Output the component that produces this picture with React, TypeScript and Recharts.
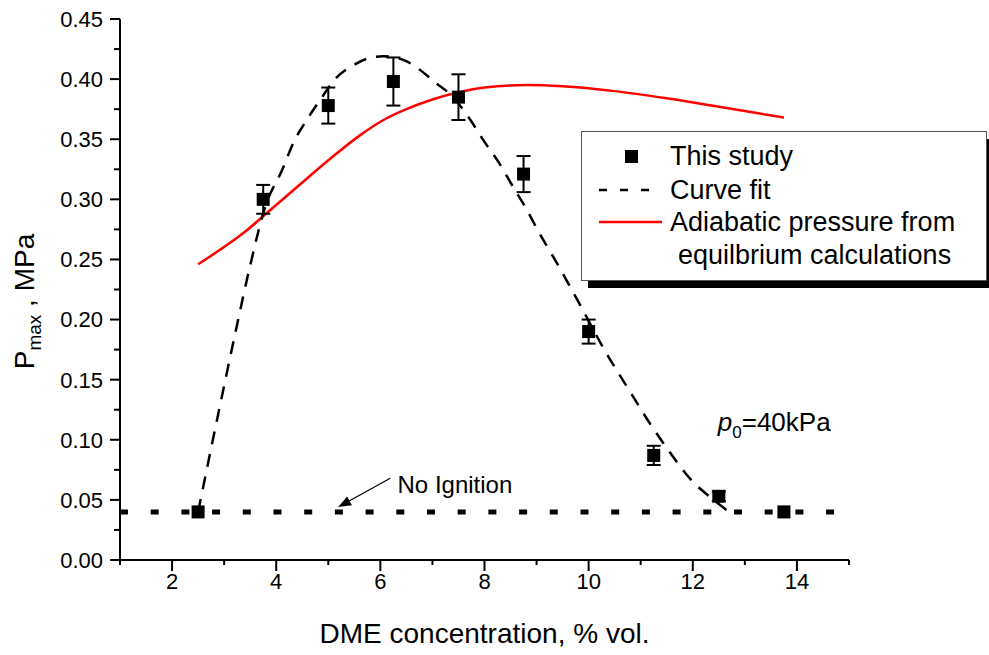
import React from 'react';
import {
  ComposedChart,
  Line,
  Scatter,
  XAxis,
  YAxis,
  ErrorBar,
  ReferenceLine,
  ReferenceDot,
  Legend
} from 'recharts';

// measured peak pressure (this study)
const STUDY_X = [2.5, 3.75, 5, 6.25, 7.5, 8.75, 10, 11.25, 12.5, 13.75];
const STUDY_P = [0.04, 0.3, 0.378, 0.398, 0.385, 0.321, 0.19, 0.087, 0.053, 0.04];
const STUDY_ERR = [null, 0.012, 0.015, 0.02, 0.019, 0.015, 0.01, 0.008, 0.004, null];

// curve fit (dashed)
const FIT_X = [2.5, 2.75, 3.0, 3.25, 3.5, 3.79, 4.12, 4.33, 4.6, 4.85, 5.13, 5.5, 5.75, 6.06, 6.44, 6.75, 7.06, 7.35, 7.73, 7.98, 8.27, 8.54, 8.79, 9.04, 9.31, 9.85, 10.3, 10.81, 11.2, 11.52, 11.96, 12.4, 12.7];
const FIT_P = [0.04, 0.093, 0.145, 0.196, 0.245, 0.294, 0.325, 0.347, 0.367, 0.383, 0.4, 0.412, 0.417, 0.419, 0.416, 0.408, 0.397, 0.387, 0.366, 0.349, 0.331, 0.311, 0.293, 0.273, 0.253, 0.211, 0.175, 0.139, 0.112, 0.092, 0.067, 0.05, 0.04];

// adiabatic pressure from equilibrium calculations (red)
const ADIA_X = [2.5, 2.92, 3.4, 3.83, 4.5, 5.1, 5.6, 6.06, 6.5, 7.0, 7.5, 8.0, 8.8, 9.5, 10.5, 11.5, 12.5, 13.2, 13.75];
const ADIA_P = [0.246, 0.258, 0.273, 0.289, 0.314, 0.336, 0.353, 0.366, 0.375, 0.383, 0.389, 0.393, 0.395, 0.394, 0.39, 0.384, 0.377, 0.372, 0.368];

const X_TICKS = [1, 2, 3, 4, 5, 6, 7, 8, 9, 10, 11, 12, 13, 14, 15];
const Y_TICKS = [0, 0.025, 0.05, 0.075, 0.1, 0.125, 0.15, 0.175, 0.2, 0.225, 0.25, 0.275, 0.3, 0.325, 0.35, 0.375, 0.4, 0.425, 0.45];

// no-ignition threshold and annotations
const NO_IGNITION_P = 0.04;
const NO_IGNITION_END = 14.75;
const ARROW_FROM = { x: 6.19, y: 0.068 };
const ARROW_TO = { x: 5.19, y: 0.044 };
const NO_IGN_LABEL = { x: 6.33, y: 0.0558 };
const P0_LABEL = { x: 12.48, y: 0.1075 };

const FONT = '"Liberation Sans", Arial, sans-serif';

const studyData = STUDY_X.map((x, i) => ({ x, y: STUDY_P[i], err: STUDY_ERR[i] }));
const fitData = FIT_X.map((x, i) => ({ x, y: FIT_P[i] }));
const adiaData = ADIA_X.map((x, i) => ({ x, y: ADIA_P[i] }));

const isMajorY = (v: number) => Math.round(v * 1000) % 50 === 0;

const BottomTick = (props: any) => {
  const { x, y, payload } = props;
  const v = payload.value;
  const major = v % 2 === 0;
  return (
    <g>
      <line x1={x} x2={x} y1={y} y2={y + (major ? 11 : 5)} stroke="#000" strokeWidth={2} />
      {major && (
        <text x={x} y={y + 29} textAnchor="middle" fontSize={22} fill="#000">
          {v}
        </text>
      )}
    </g>
  );
};

const LeftTick = (props: any) => {
  const { x, y, payload } = props;
  const v = payload.value;
  const major = isMajorY(v);
  return (
    <g>
      <line x1={x} x2={x - (major ? 10 : 6)} y1={y} y2={y} stroke="#000" strokeWidth={2} />
      {major && (
        <text x={x - 17} y={y} dy="0.36em" textAnchor="end" fontSize={22} fill="#000">
          {v.toFixed(2)}
        </text>
      )}
    </g>
  );
};

const TopTick = (props: any) => {
  const { x, y } = props;
  return <line x1={x} x2={x} y1={y} y2={y + 3} stroke="#000" strokeWidth={1.5} />;
};

const RightTick = (props: any) => {
  const { x, y } = props;
  return <line x1={x} x2={x - 3} y1={y} y2={y} stroke="#000" strokeWidth={1.5} />;
};

const Square = (props: any) => {
  const { cx, cy } = props;
  if (cx == null || cy == null) return null;
  return <rect x={cx - 6.5} y={cy - 6.5} width={13} height={13} fill="#000" />;
};

const ArrowShape = (props: any) => {
  const { x1, y1, x2, y2 } = props;
  const a = Math.atan2(y2 - y1, x2 - x1);
  const len = 13;
  const hw = 5;
  const bx = x2 - len * Math.cos(a);
  const by = y2 - len * Math.sin(a);
  const px = -Math.sin(a) * hw;
  const py = Math.cos(a) * hw;
  return (
    <g>
      <line x1={x1} y1={y1} x2={bx} y2={by} stroke="#000" strokeWidth={1.2} />
      <polygon points={`${x2},${y2} ${bx + px},${by + py} ${bx - px},${by - py}`} fill="#000" />
    </g>
  );
};

const NoIgnitionText = (props: any) => (
  <text x={props.cx} y={props.cy} fontSize={24} fill="#000">
    No Ignition
  </text>
);

const P0Text = (props: any) => (
  <text x={props.cx} y={props.cy} fontSize={26} fill="#000">
    <tspan fontStyle="italic">p</tspan>
    <tspan fontSize={17} dy={7}>0</tspan>
    <tspan dy={-7}>=40kPa</tspan>
  </text>
);

const YTitle = (props: any) => {
  const { viewBox } = props;
  const cx = viewBox.x - 26;
  const cy = viewBox.y + viewBox.height / 2 + 12;
  return (
    <text x={cx} y={cy} transform={`rotate(-90 ${cx} ${cy})`} textAnchor="middle" fontSize={28} fill="#000">
      <tspan>P</tspan>
      <tspan fontSize={19} dy={7}>max</tspan>
      <tspan dy={-7}> , MPa</tspan>
    </text>
  );
};

const XTitle = (props: any) => {
  const { viewBox } = props;
  return (
    <text x={viewBox.x + viewBox.width / 2} y={viewBox.y + 83} textAnchor="middle" fontSize={28} fill="#000">
      DME concentration, % vol.
    </text>
  );
};

const LegendBox = () => (
  <svg width={420} height={160} style={{ fontFamily: FONT, display: 'block' }}>
    <rect x={7} y={8} width={405} height={149} fill="#000" />
    <rect x={0.5} y={0.5} width={405} height={149} fill="#fff" stroke="#555" strokeWidth={1} />
    <rect x={44} y={19} width={13} height={13} fill="#000" />
    <text x={89} y={34} fontSize={27} fill="#000">This study</text>
    <line x1={18} x2={76} y1={59} y2={59} stroke="#000" strokeWidth={2.5} strokeDasharray="8 13" />
    <text x={89} y={68} fontSize={27} fill="#000">Curve fit</text>
    <line x1={18} x2={81} y1={91} y2={91} stroke="#ff0000" strokeWidth={2.5} />
    <text x={89} y={100} fontSize={27} fill="#000">Adiabatic pressure from</text>
    <text x={97} y={133} fontSize={27} fill="#000">equilbrium calculations</text>
  </svg>
);

const App: React.FC = () => {
  return (
    <div style={{ position: 'absolute', left: 0, top: 0, width: 989, height: 655, background: '#fff', fontFamily: FONT }}>
      <ComposedChart
        width={989}
        height={655}
        margin={{ top: 19, right: 140, bottom: 55, left: 60 }}
        style={{ fontFamily: FONT }}
      >
        <XAxis
          xAxisId={0}
          type="number"
          dataKey="x"
          domain={[1, 15]}
          ticks={X_TICKS}
          interval={0}
          height={40}
          tickSize={0}
          tickMargin={0}
          tickLine={false}
          axisLine={{ stroke: '#000', strokeWidth: 2 }}
          tick={BottomTick}
          label={{ content: XTitle }}
          allowDataOverflow
        />
        <XAxis
          xAxisId="top"
          orientation="top"
          type="number"
          dataKey="x"
          domain={[1, 15]}
          ticks={X_TICKS}
          interval={0}
          height={0}
          tickSize={0}
          tickMargin={0}
          tickLine={false}
          axisLine={{ stroke: '#000', strokeWidth: 2 }}
          tick={TopTick}
          allowDataOverflow
        />
        <YAxis
          yAxisId={0}
          type="number"
          dataKey="y"
          domain={[0, 0.45]}
          ticks={Y_TICKS}
          interval={0}
          width={60}
          tickSize={0}
          tickMargin={0}
          tickLine={false}
          axisLine={{ stroke: '#000', strokeWidth: 2 }}
          tick={LeftTick}
          label={{ content: YTitle }}
          allowDataOverflow
        />
        <YAxis
          yAxisId="right"
          orientation="right"
          type="number"
          dataKey="y"
          domain={[0, 0.45]}
          ticks={Y_TICKS}
          interval={0}
          width={0}
          tickSize={0}
          tickMargin={0}
          tickLine={false}
          axisLine={{ stroke: '#000', strokeWidth: 2 }}
          tick={RightTick}
          allowDataOverflow
        />

        <ReferenceLine
          segment={[{ x: 1, y: NO_IGNITION_P }, { x: NO_IGNITION_END, y: NO_IGNITION_P }]}
          stroke="#000"
          strokeWidth={5}
          strokeDasharray="8 22.7"
        />
        <ReferenceLine segment={[ARROW_FROM, ARROW_TO]} stroke="#000" shape={ArrowShape} />
        <ReferenceDot x={NO_IGN_LABEL.x} y={NO_IGN_LABEL.y} r={0} shape={NoIgnitionText} />
        <ReferenceDot x={P0_LABEL.x} y={P0_LABEL.y} r={0} shape={P0Text} />

        <Line
          data={adiaData}
          dataKey="y"
          name="Adiabatic pressure from equilbrium calculations"
          type="monotone"
          stroke="#ff0000"
          strokeWidth={2.5}
          dot={false}
          activeDot={false}
          isAnimationActive={false}
        />
        <Line
          data={fitData}
          dataKey="y"
          name="Curve fit"
          type="monotone"
          stroke="#000"
          strokeWidth={2.5}
          strokeDasharray="13 10"
          dot={false}
          activeDot={false}
          isAnimationActive={false}
        />
        <Scatter
          data={studyData}
          dataKey="y"
          name="This study"
          fill="#000"
          shape={Square}
          isAnimationActive={false}
        >
          <ErrorBar dataKey="err" direction="y" width={7} stroke="#000" strokeWidth={2} isAnimationActive={false} />
        </Scatter>

        <Legend
          layout="horizontal"
          verticalAlign="middle"
          align="center"
          content={LegendBox}
          wrapperStyle={{ position: 'absolute', left: 581, top: 131, width: 420, height: 160 }}
        />
      </ComposedChart>
    </div>
  );
};

export default App;
